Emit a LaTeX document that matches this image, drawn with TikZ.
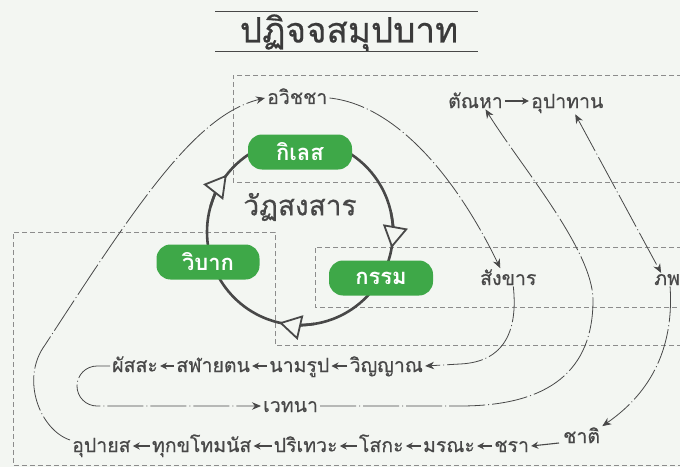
\documentclass[tikz,border=0pt]{standalone}
\usepackage{fontspec}
\newfontfamily\thai[Script=Thai]{Loma}
\newfontfamily\thaimed[Script=Thai, FakeBold=0.5]{Loma}
\usetikzlibrary{arrows.meta, positioning}
\definecolor{paper}{RGB}{243,246,242}
\definecolor{ink}{RGB}{72,72,72}
\definecolor{leaf}{RGB}{62,168,72}

\begin{document}
\begin{tikzpicture}[x=1pt, y=1pt,
    term/.style={font=\thaimed\fontsize{19.5}{22}\selectfont, text=ink, inner xsep=2pt, inner ysep=1pt},
    pill/.style={fill=leaf, rounded corners=14pt, minimum width=104pt, minimum height=35pt,
                 text=white, font=\thai\bfseries\fontsize{22}{26}\selectfont},
    grp/.style={draw=gray!90, dash pattern=on 5pt off 3pt, line width=0.75pt},
    flow/.style={draw=ink, line width=0.8pt, dash pattern=on 36pt off 3pt on 1pt off 3pt},
    tip/.style={-{Stealth[length=9pt, width=7.5pt]}},
    warr/.style={ink, line width=1.1pt, -{Stealth[length=7pt, width=7pt]}},
    ring/.style={draw=ink, line width=2.6pt}]
  \fill[paper] (0,0) rectangle (680,467);
  \useasboundingbox (0,0) rectangle (680,467);

  \node[font=\thaimed\fontsize{35}{40}\selectfont, text=ink!80!black] (title) at (349,434) {ปฏิจจสมุปบาท};
  \draw[ink, line width=1pt] (215,455) -- (478,455) (215,415) -- (478,415);

  \draw[grp] (690,392) -- (233,392) -- (233,285) -- (690,285);
  \draw[grp] (690,220) -- (315,220) -- (315,160) -- (690,160);
  \draw[grp] (690,122) -- (275,122) -- (275,235) -- (13,235) -- (13,2) -- (690,2);

  \node[term, anchor=base west] (avijja) at (265,363) {อวิชชา};
  \node[term, anchor=base west] (tanha) at (446,359) {ตัณหา};
  \node[term, base right=24pt of tanha] (upadana) {อุปาทาน};
  \node[term, anchor=base west] (sankhara) at (478,182) {สังขาร};
  \node[term, anchor=base west] (bhava) at (652,182) {ภพ};
  \node[term, anchor=base west] (phassa) at (110,95) {ผัสสะ};
  \node[term, base right=14pt of phassa] (salayatana) {สฬายตน};
  \node[term, base right=15pt of salayatana] (namarupa) {นามรูป};
  \node[term, base right=16pt of namarupa] (vinnana) {วิญญาณ};
  \node[term, anchor=base west] (vedana) at (261,55) {เวทนา};
  \node[term, anchor=base west] (upayasa) at (70,15) {อุปายส};
  \node[term, base right=17pt of upayasa] (dukkha) {ทุกขโทมนัส};
  \node[term, base right=18pt of dukkha] (parideva) {ปริเทวะ};
  \node[term, base right=17pt of parideva] (soka) {โสกะ};
  \node[term, base right=15pt of soka] (marana) {มรณะ};
  \node[term, base right=15pt of marana] (jara) {ชรา};
  \node[term, anchor=base west] (chati) at (561,24) {ชาติ};

  \foreach \a/\b in {salayatana/phassa, namarupa/salayatana, vinnana/namarupa,
                     dukkha/upayasa, parideva/dukkha, soka/parideva, marana/soka, jara/marana}
    \draw[warr] ([yshift=6pt]\a.base west) -- ([yshift=6pt]\b.base east);
  \draw[warr] ([yshift=7pt]tanha.base east) -- ([yshift=7pt]upadana.base west);
  \draw[warr] ([xshift=-2pt]chati.base west) -- ([yshift=6pt]jara.base east);

  \draw[flow, tip] ([yshift=12pt]upayasa.base west) .. controls (40,37) and (20,88) .. (45,122)
        .. controls (137,263) and (195,352) .. ([yshift=6pt]avijja.base west);
  \draw[flow, tip] ([yshift=6pt]avijja.base east) .. controls (395,362) and (455,292) .. ([xshift=-8pt]sankhara.north);
  \draw[flow, tip] ([xshift=5pt]sankhara.south) .. controls (518,137) and (505,105) .. (460,103)
        -- ([yshift=6pt]vinnana.base east);
  \draw[flow, tip] ([yshift=6pt]phassa.base west) -- (97,101) arc[start angle=90, end angle=270, radius=20]
        -- ([yshift=6pt]vedana.base west);
  \draw[flow, tip] ([yshift=6pt]vedana.base east) -- (460,61) .. controls (550,61) and (593,97) .. (593,167)
        .. controls (593,217) and (520,302) .. ([xshift=10pt]tanha.south);
  \draw[flow, {Stealth[length=9pt, width=7.5pt]}-{Stealth[length=9pt, width=7.5pt]}]
        ([xshift=8pt]upadana.south) -- ([xshift=-6pt]bhava.north);
  \draw[flow, tip] ([xshift=3pt]bhava.south) .. controls (675,107) and (640,67) .. (chati.north east);

  \draw[ring] (300,235) circle[radius=93];
  \foreach \a in {149,-3,-96}
    \draw[ring, -{Triangle[length=22pt, width=25pt, fill=paper, line width=1.8pt]}]
      ([shift={(\a+15:93)}]300,235) arc[start angle=\a+15, end angle=\a-7, radius=93];

  \node[pill] (kilesa) at (300,315) {กิเลส};
  \node[pill, minimum width=103pt] (vipaka) at (208,205) {วิบาก};
  \node[pill] (kamma) at (381,189) {กรรม};
  \node[font=\thaimed\fontsize{28}{30}\selectfont, text=ink] (vatta) at (300,260) {วัฏสงสาร};
\end{tikzpicture}
\end{document}
